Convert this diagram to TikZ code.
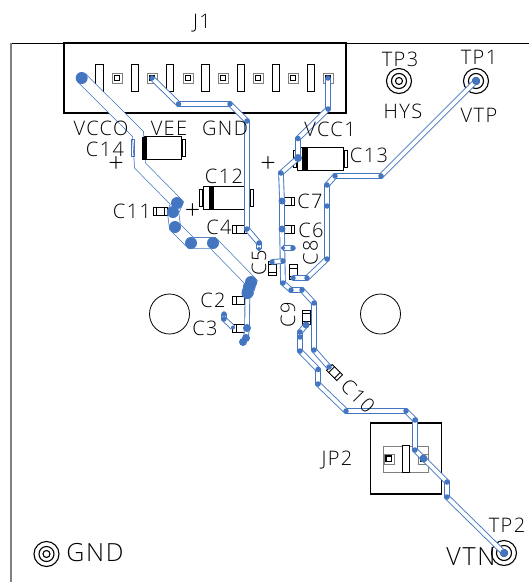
\documentclass[tikz,border=0pt]{standalone}
\usepackage{fontspec}
\setmainfont{Open Sans}[UprightFont=* Light, LetterSpace=7]
\usetikzlibrary{positioning}
\definecolor{trblue}{HTML}{4375C0}
\pgfdeclarelayer{parts}
\pgfdeclarelayer{traces}
\pgfsetlayers{parts,traces,main}
\tikzstyle{silk} = [inner sep=0pt, font=\fontsize{20}{20}\selectfont]
\tikzstyle{bigsilk} = [inner sep=0pt, font=\fontsize{25}{26}\selectfont]
\tikzstyle{plussign} = [inner sep=0pt, text height=10pt, text depth=0pt, font=\fontsize{27}{27}\selectfont]
\tikzstyle{pin} = [rectangle, minimum width=7.5pt, minimum height=27pt, inner sep=0pt, draw=black, line width=1pt, fill=white]
\tikzstyle{pad} = [rectangle, minimum size=10pt, inner sep=0pt, draw=gray, fill=white, path picture={\draw[black, line width=1.4pt] (path picture bounding box.center) ++(-2.7,-2.7) rectangle ++(5.4,5.4);}]
\tikzstyle{chipcap} = [rectangle, minimum width=14.5pt, minimum height=8pt, inner sep=0pt, draw=black, line width=0.9pt, fill=white, path picture={\draw[black] (path picture bounding box.center) ++(-4,-5) -- ++(0,10) ++(8,-10) -- ++(0,10);}]
\tikzstyle{bigcap} = [rectangle, minimum width=46pt, minimum height=23pt, inner sep=0pt, draw=black, line width=1pt, fill=white]
\tikzstyle{capend} = [rectangle, minimum width=3pt, minimum height=17pt, inner sep=0pt, draw=black, line width=0.7pt, fill=white]
\tikzstyle{capband} = [rectangle, minimum width=5.5pt, minimum height=23pt, inner sep=0pt, fill=black]
\tikzstyle{hole} = [circle, minimum size=40pt, inner sep=0pt, draw=black, line width=0.8pt]
\tikzstyle{testpt} = [circle, minimum size=25pt, inner sep=0pt, draw=black, line width=1.1pt, path picture={\draw[black, line width=1.1pt] (path picture bounding box.center) circle (7.5) (path picture bounding box.center) circle (3.5);}]
\tikzstyle{via} = [circle, minimum size=5.5pt, inner sep=0pt, fill=trblue]
\tikzstyle{midvia} = [circle, minimum size=8pt, inner sep=0pt, fill=trblue]
\tikzstyle{bigvia} = [circle, minimum size=12pt, inner sep=0pt, fill=trblue]
\tikzstyle{trace} = [draw=trblue, line width=0.9pt, double=white, double distance=3.8pt]
\tikzstyle{widetrace} = [draw=trblue, line width=0.7pt, double=white, double distance=10.5pt]

\begin{document}
\begin{tikzpicture} [x=1pt, y=-1pt]
    \useasboundingbox (0,0) rectangle (529,582);

    \begin{pgfonlayer}{parts}
    \coordinate (cornertl) at (11,43);
    \coordinate (cornertr) at (529,43);
    \coordinate (cornerbl) at (11,582);
    \draw[black, line width=1pt] (cornertl) -- (cornertr);
    \draw[gray, line width=1.8pt] (cornertl) -- (cornerbl);

    \node (j1box) [rectangle, minimum width=282pt, minimum height=70pt, draw=black, line width=1.1pt, fill=white] at (205,78) {};
    \node (j1lbl) [silk] at (202,23) {J1};
    \node (pin1) [pin] at (99.5,77.5) {};
    \node (pin2) [pin] at (134.8,77.5) {};
    \node (pin3) [pin] at (170,77.5) {};
    \node (pin4) [pin] at (205.5,77.5) {};
    \node (pin5) [pin] at (240.8,77.5) {};
    \node (pin6) [pin] at (276,77.5) {};
    \node (pin7) [pin] at (311,77.5) {};
    \node (pad2) [pad] at (117,78) {};
    \node (pad3) [pad] at (152,78) {};
    \node (pad4) [pad] at (188,78) {};
    \node (pad5) [pad] at (223,78) {};
    \node (pad6) [pad] at (258,78) {};
    \node (pad7) [pad] at (293,78) {};
    \node (pad8) [pad] at (328,78) {};

    \node (c14) [bigcap] at (158.5,148) {};
    \node (c14b) [capend, right=0pt of c14] {};
    \node (c14lbl) [silk] at (105,149.5) {C14};
    \node (plus14) [plussign] at (116,167) {+};

    \node (c12) [bigcap] at (226,197.5) {};
    \node (c12a) [capend, left=0pt of c12] {};
    \node (c12b) [capend, right=0pt of c12] {};
    \node (c12band) [capband, right=6pt of c12.west] {};
    \node (c12lbl) [silk] at (224,176) {C12};
    \node (plus12) [plussign] at (192.5,214) {+};

    \node (c13) [bigcap] at (320,158.5) {};
    \node (c13a) [capend, left=0pt of c13] {};
    \node (c13b) [capend, right=0pt of c13] {};
    \node (c13band) [capband, right=5.5pt of c13.west] {};
    \node (c13lbl) [silk] at (369,155) {C13};
    \node (plus13) [plussign] at (268,167) {+};

    \node (c11) [chipcap] at (160.5,211.5) {};
    \node (c11lbl) [silk] at (132,211) {C11};
    \node (c4) [chipcap] at (240,229.5) {};
    \node (c4lbl) [silk] at (219,227) {C4};
    \node (c2) [chipcap] at (240,300) {};
    \node (c2lbl) [silk] at (213,300) {C2};
    \node (c3) [chipcap] at (240,328) {};
    \node (c3lbl) [silk] at (205,328) {C3};
    \node (c5) [chipcap, rotate=90] at (272,268.5) {};
    \node (c5lbl) [silk, rotate=90] at (259,262.5) {C5};
    \node (c7) [chipcap] at (287.5,201.5) {};
    \node (c7lbl) [silk] at (310,201) {C7};
    \node (c6) [chipcap] at (287.5,229.5) {};
    \node (c6lbl) [silk] at (311,230) {C6};
    \node (c8) [chipcap, rotate=90] at (293,272) {};
    \node (c8lbl) [silk, rotate=90] at (310.5,252.5) {C8};
    \node (c9) [chipcap, rotate=90] at (306,317.5) {};
    \node (c9lbl) [silk, rotate=90] at (288,315) {C9};
    \node (c10) [chipcap, rotate=-45] at (334.5,372.5) {};

    \node (hole1) [hole] at (169.5,314) {};
    \node (hole2) [hole] at (380.5,314) {};

    \node (tp3) [testpt] at (399,81) {};
    \node (tp3lbl) [silk] at (400,59) {TP3};
    \node (hys) [silk] at (403,111) {HYS};
    \node (tp1) [testpt] at (476,81) {};
    \node (tp1lbl) [silk] at (479,57) {TP1};
    \node (vtp) [silk] at (479,115) {VTP};
    \node (tp2) [testpt] at (504,553) {};
    \node (tp2lbl) [silk] at (507,525) {TP2};
    \node (tpgnd) [testpt] at (46.5,554) {};
    \node (gndlbl) [bigsilk] at (95,553) {GND};

    \node (jp2box) [rectangle, minimum size=71pt, inner sep=0pt, draw=black, line width=1.1pt, fill=white] at (406,458.5) {};
    \node (jp2lbl) [silk] at (337,460) {JP2};
    \node (jp2body) [rectangle, minimum width=45pt, minimum height=26pt, inner sep=0pt, draw=gray, line width=0.8pt] at (405.5,459) {};
    \node (jp2bar) [rectangle, minimum width=7pt, minimum height=27pt, inner sep=0pt, draw=black, line width=1pt, fill=white] at (406,458.5) {};
    \node (jp2a) [pad] at (388.7,458.7) {};
    \node (jp2b) [pad] at (423,459) {};
    \end{pgfonlayer}

    \node (w1) [bigvia] at (81.7,78) {};
    \coordinate (w2) at (138,134);
    \coordinate (w3) at (140,165.5);
    \node (w4) [bigvia] at (177,203) {};
    \node (w5) [bigvia] at (173,212) {};
    \node (w6) [bigvia] at (175,227) {};
    \node (w7) [bigvia] at (191,243) {};
    \node (w8) [bigvia] at (213,243) {};
    \node (w9) [bigvia] at (251,282) {};
    \node (w10) [bigvia] at (249,287) {};
    \node (w11) [bigvia] at (247.5,293) {};
    \node (w12) [midvia] at (247,328) {};
    \node (w13) [midvia] at (246,338) {};
    \node (w14) [midvia] at (243,342) {};

    \node (e1) [via] at (152,78) {};
    \node (e2) [via] at (178.5,104) {};
    \node (e3) [via] at (230,104) {};
    \node (e4) [via] at (247,121) {};
    \node (e5) [via] at (247,229) {};
    \node (e6) [via] at (259,243) {};
    \node (e7) [via, minimum size=4pt] at (259,249) {};

    \node (s1) [via] at (224,314) {};
    \node (s2) [via] at (224,319) {};
    \node (s3) [via, minimum size=4pt] at (233,327.5) {};

    \node (v1) [via] at (328,78) {};
    \node (v2) [via] at (328,109) {};
    \node (v3) [via] at (298,138.5) {};
    \node (v4) [midvia] at (298,158) {};
    \node (v5) [via] at (281,173) {};
    \node (v6) [midvia, minimum size=7pt] at (282,201) {};
    \node (v7) [midvia, minimum size=7pt] at (282,229) {};
    \node (v8) [via] at (283,283) {};
    \node (v9) [via] at (291,290) {};
    \node (v10) [via] at (302,290) {};
    \node (v11) [via] at (314,303) {};
    \node (v12) [via] at (314,350) {};
    \node (v13) [via] at (329,367) {};
    \node (v14) [via, minimum size=4pt] at (283,248) {};
    \node (v15) [via] at (293,248) {};
    \node (v16) [via] at (272,262) {};
    \node (v17) [via] at (283,261) {};

    \node (p1) [via] at (293,278) {};
    \node (p2) [via] at (307,278) {};
    \node (p3) [via] at (327,259) {};
    \node (p4) [via] at (327,206) {};
    \node (p5) [via] at (327,185) {};
    \node (p6) [via] at (335,176) {};
    \node (p7) [via] at (381,176) {};
    \node (p8) [midvia] at (476,81) {};

    \node (n1) [midvia, minimum size=7pt] at (306,325) {};
    \node (n2) [via] at (300,332) {};
    \node (n3) [via] at (300,337) {};
    \node (n4) [via] at (300,351) {};
    \node (n5) [via] at (318,369.5) {};
    \node (n6) [via] at (318,384) {};
    \node (n7) [via] at (346,411) {};
    \node (n8) [via] at (406,411) {};
    \node (n9) [via] at (415,420) {};
    \node (n10) [via] at (415,450) {};
    \node (n11) [midvia] at (423.5,458.5) {};
    \node (n12) [via] at (447,482) {};
    \node (n13) [via] at (447,497) {};
    \node (n14) [midvia] at (504,553) {};

    % these stay readable on top of the traces
    \node (c14a) [capend, left=0pt of c14, draw=trblue, fill=none] {};
    \node (c14band) [capband, right=6.5pt of c14.west] {};
    \node (vcco) [silk] at (101,128) {VCCO};
    \node (vee) [silk] at (169,128) {VEE};
    \node (gnd) [silk] at (225,128) {GND};
    \node (vcc1) [silk] at (330,129.5) {VCC1};
    \node (c10lbl) [silk, rotate=-45] at (358,396) {C10};
    \node (vtn) [bigsilk] at (471,557) {VTN};

    \begin{pgfonlayer}{traces}
    \draw[widetrace] (w1.center) -- (w2) -- (w3) -- (w4.center) -- (w5.center) -- (w6.center) -- (w7.center) -- (w8.center) -- (w9.center) -- (w11.center);
    \draw[trace] (w11.center) -- (w12.center) -- (w13.center) -- (w14.center);
    \draw[trace] (e1.center) -- (e2.center) -- (e3.center) -- (e4.center) -- (e5.center) -- (e6.center) -- (e7.center);
    \draw[trace] (s1.center) -- (s2.center) -- (s3.center);
    \draw[trace] (v1.center) -- (v2.center) -- (v3.center) -- (v4.center) -- (v5.center) -- (v6.center) -- (v7.center) -- (v8.center) -- (v9.center) -- (v10.center) -- (v11.center) -- (v12.center) -- (v13.center);
    \draw[trace] (v14.center) -- (v15.center);
    \draw[trace] (v16.center) -- (v17.center);
    \draw[trace] (p1.center) -- (p2.center) -- (p3.center) -- (p4.center) -- (p5.center) -- (p6.center) -- (p7.center) -- (p8.center);
    \draw[trace] (n1.center) -- (n2.center) -- (n3.center) -- (n4.center) -- (n5.center) -- (n6.center) -- (n7.center) -- (n8.center) -- (n9.center) -- (n10.center) -- (n11.center) -- (n12.center) -- (n13.center) -- (n14.center);
    \end{pgfonlayer}
\end{tikzpicture}
\end{document}
